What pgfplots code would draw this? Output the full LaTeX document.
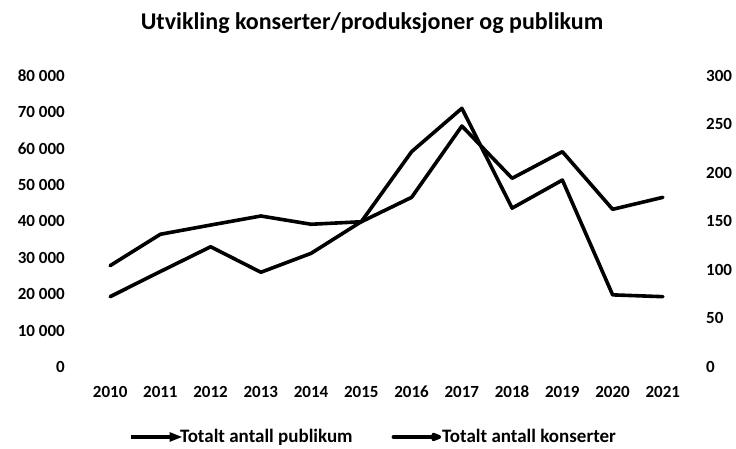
\documentclass[border=0pt]{standalone}
\usepackage{fontspec}
\setmainfont{Carlito}
\usepackage{pgfplots}
\usepackage{pgfplotstable}
\pgfplotsset{compat=1.18}

\pgfplotstableread{
year pub kons
2010 19300 104.3
2011 26200 136.6
2012 33000 146.1
2013 26000 155.4
2014 31200 146.9
2015 39900 149.5
2016 59100 174.6
2017 71000 248.0
2018 43600 194.2
2019 51300 221.6
2020 19800 162.3
2021 19300 174.6
}\datatable

\begin{document}
\begin{tikzpicture}[x=1pt,y=1pt]
\useasboundingbox (0,0) rectangle (736,448);
\node[anchor=base,font=\bfseries\fontsize{24}{26}\selectfont] at (372,418) {Utvikling konserter/produksjoner og publikum};
\pgfplotsset{
  common/.style={
    at={(85pt,81pt)}, anchor=south west,
    scale only axis, width=603pt, height=291.5pt,
    xmin=2009.5, xmax=2021.5,
    axis line style={draw=none},
    major tick length=0pt,
    /pgf/number format/assume math mode=true,
    ticklabel style={font=\bfseries\fontsize{17}{17}\selectfont, inner sep=0pt},
    clip=false,
  }
}
\begin{axis}[common,
  ymin=0, ymax=80000,
  ytick={0,10000,...,80000},
  scaled y ticks=false,
  xtick={2010,...,2021},
  xticklabel style={/pgf/number format/1000 sep={}, anchor=base, yshift=-30pt},
  yticklabel style={/pgf/number format/1000 sep={\ }, anchor=east, xshift=-20pt},
]
\addplot[black, line width=3.6pt, line join=round, line cap=round] table[x=year,y=pub] {\datatable};
\end{axis}
\begin{axis}[common,
  ymin=0, ymax=300,
  axis x line=none,
  axis y line*=right,
  ytick={0,50,...,300},
  yticklabel style={anchor=west, xshift=18pt},
  legend columns=2,
  legend style={at={(0.478,-0.24)}, anchor=center, draw=none, fill=none,
    font=\bfseries\fontsize{19}{19}\selectfont,
    /tikz/every even column/.append style={column sep=38pt},
    nodes={inner sep=1pt}},
  legend image code/.code={\draw[#1] (0pt,0pt) -- (41pt,0pt);
    \fill[black] (40pt,2.4pt) -- (46pt,0pt) -- (40pt,-2.4pt) -- cycle;},
]
\addlegendimage{black, line width=3.4pt}
\addlegendentry{Totalt antall publikum}
\addplot[black, line width=3.6pt, line join=round, line cap=round] table[x=year,y=kons] {\datatable};
\addlegendentry{Totalt antall konserter}
\end{axis}
\end{tikzpicture}
\end{document}
